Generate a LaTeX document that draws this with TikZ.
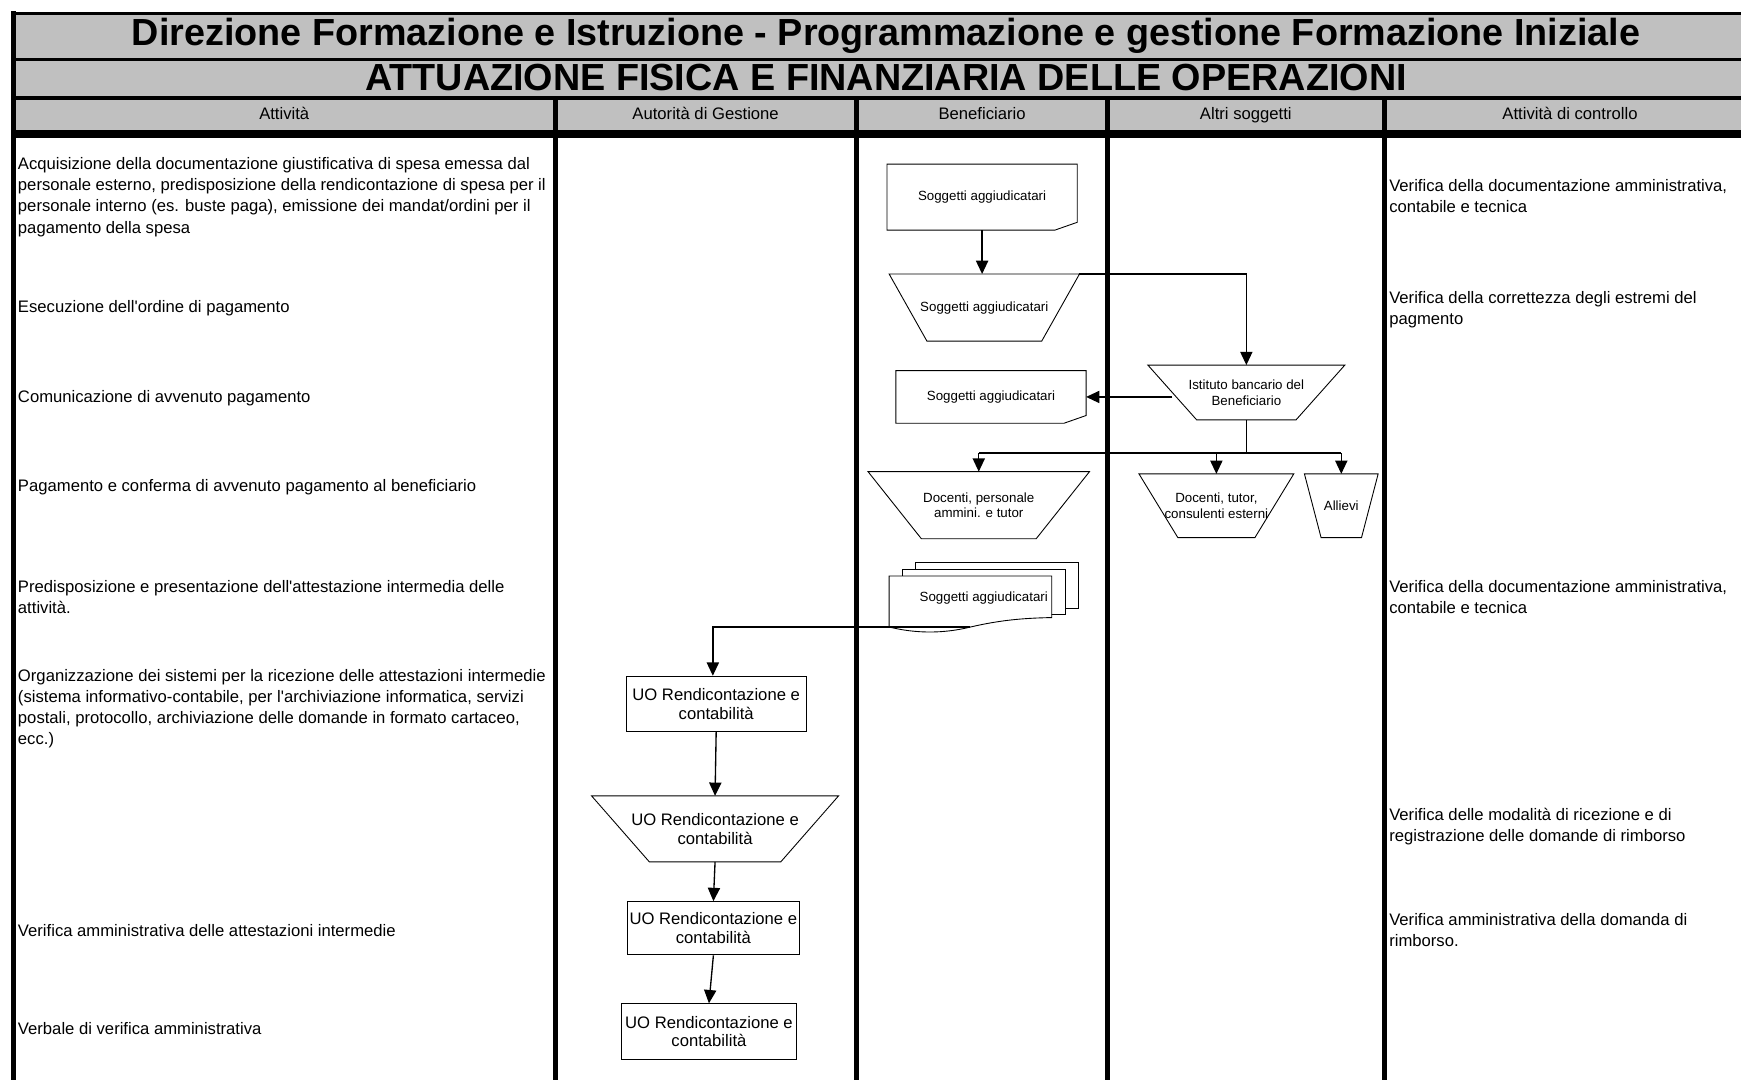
\documentclass[tikz,border=0pt]{standalone}
\usepackage{fontspec}
\setmainfont{Liberation Sans}
\usetikzlibrary{arrows.meta}

\definecolor{bandgray}{RGB}{192,192,192}

\tikzset{
  lane/.style={line width=4.5pt},
  rowtxt/.style={anchor=west, align=left, inner sep=0pt, font=\fontsize{15}{19}\selectfont},
  headtxt/.style={inner sep=0pt, text height=11pt, text depth=3.5pt, font=\fontsize{15}{18}\selectfont},
  boxtxt/.style={inner sep=0pt, align=center, font=\fontsize{12}{14}\selectfont},
  uobox/.style={draw, line width=0.8pt, inner sep=0pt, align=center, font=\fontsize{15}{17}\selectfont},
  outline/.style={line width=0.8pt},
  wire/.style={line width=1.2pt},
  flow/.style={line width=1.2pt, -{Triangle[length=12pt,width=11pt]}},
}

% trapezium with the wide side on top: node name, inset of the bottom side
\newcommand\manop[2]{\draw[outline] (#1.north west) -- (#1.north east) -- ([xshift=-#2pt]#1.south east) -- ([xshift=#2pt]#1.south west) -- cycle;}
% page with a cut corner
\newcommand\docpage[1]{\draw[outline] (#1.north west) -- (#1.north east) -- ([yshift=7pt]#1.south east) -- ([xshift=-20pt]#1.south east) -- (#1.south west) -- cycle;}

\begin{document}
\begin{tikzpicture}[x=1pt,y=-1pt]
  \useasboundingbox (0,0) rectangle (1568,972);
  \clip (0,0) rectangle (1568,972);

  % Header bands
  \fill[bandgray] (12,12) rectangle (1600,120);
  \draw[line width=3pt] (10,12) -- (1600,12);
  \draw[line width=3pt] (10,53.5) -- (1600,53.5);
  \draw[line width=3.5pt] (10,88) -- (1600,88);
  \draw[line width=7pt] (10,120.5) -- (1600,120.5);

  % Lanes
  \draw[lane] (12,10) -- (12,990);
  \draw[lane] (500.5,88) -- (500.5,990);
  \draw[lane] (771.5,88) -- (771.5,990);
  \draw[lane] (997.5,88) -- (997.5,990);
  \draw[lane] (1246.5,88) -- (1246.5,990);

  % Titles
  \node[inner sep=0pt, font=\fontsize{34}{40}\selectfont\bfseries] (title1) at (798,32) {Direzione Formazione e Istruzione - Programmazione e gestione Formazione Iniziale};
  \node[inner sep=0pt, font=\fontsize{34}{40}\selectfont\bfseries] (title2) at (798,70) {ATTUAZIONE FISICA E FINANZIARIA DELLE OPERAZIONI};

  % Column headers
  \node[headtxt] (h1) at (256,104) {Attività};
  \node[headtxt] (h2) at (635.5,104) {Autorità di Gestione};
  \node[headtxt] (h3) at (884.5,104) {Beneficiario};
  \node[headtxt] (h4) at (1122,104) {Altri soggetti};
  \node[headtxt] (h5) at (1414,104) {Attività di controllo};

  % Activities
  \node[rowtxt] (a1) at (16,177.5) {Acquisizione della documentazione giustificativa di spesa emessa dal\\personale esterno, predisposizione della rendicontazione di spesa per il\\personale interno (es. buste paga), emissione dei mandat/ordini per il\\pagamento della spesa};
  \node[rowtxt] (a2) at (16,278) {Esecuzione dell\textquotesingle ordine di pagamento};
  \node[rowtxt] (a3) at (16,359) {Comunicazione di avvenuto pagamento};
  \node[rowtxt] (a4) at (16,439) {Pagamento e conferma di avvenuto pagamento al beneficiario};
  \node[rowtxt] (a5) at (16,537.5) {Predisposizione e presentazione dell\textquotesingle attestazione intermedia delle\\attività.};
  \node[rowtxt] (a6) at (16,638.5) {Organizzazione dei sistemi per la ricezione delle attestazioni intermedie\\(sistema informativo-contabile, per l\textquotesingle archiviazione informatica, servizi\\postali, protocollo, archiviazione delle domande in formato cartaceo,\\ecc.)};
  \node[rowtxt] (a7) at (16,838) {Verifica amministrativa delle attestazioni intermedie};
  \node[rowtxt] (a8) at (16,926) {Verbale di verifica amministrativa};

  % Controls
  \node[rowtxt] (c1) at (1251,176.5) {Verifica della documentazione amministrativa,\\contabile e tecnica};
  \node[rowtxt] (c2) at (1251,279) {Verifica della correttezza degli estremi del\\pagmento};
  \node[rowtxt] (c3) at (1251,537.5) {Verifica della documentazione amministrativa,\\contabile e tecnica};
  \node[rowtxt] (c4) at (1251,744.5) {Verifica delle modalità di ricezione e di\\registrazione delle domande di rimborso};
  \node[rowtxt] (c5) at (1251,838) {Verifica amministrativa della domanda di\\rimborso.};

  % Beneficiario and Altri soggetti
  \node[boxtxt, minimum width=171pt, minimum height=59pt] (s1) at (884.5,177.5) {Soggetti aggiudicatari};
  \docpage{s1}
  \node[boxtxt, minimum width=171pt, minimum height=60pt] (t1) at (886.5,277) {Soggetti aggiudicatari};
  \manop{t1}{34}
  \node[boxtxt, minimum width=177pt, minimum height=49pt] (t2) at (1122.5,353.5) {Istituto bancario del\\Beneficiario};
  \manop{t2}{44}
  \node[boxtxt, minimum width=171pt, minimum height=47pt] (s2) at (892.5,357.5) {Soggetti aggiudicatari};
  \docpage{s2}
  \node[boxtxt, minimum width=199pt, minimum height=60pt] (t3) at (881.5,455) {Docenti, personale\\ammini. e tutor};
  \manop{t3}{48}
  \node[boxtxt, minimum width=139pt, minimum height=57pt] (t4) at (1095.5,455.5) {Docenti, tutor,\\consulenti esterni};
  \manop{t4}{35}
  \node[boxtxt, minimum width=66pt, minimum height=57pt] (t5) at (1208,455.5) {Allievi};
  \manop{t5}{15}

  % stacked pages
  \node[minimum width=146pt, minimum height=45.5pt, inner sep=0pt] (s3) at (874,541.75) {};
  \filldraw[outline, fill=white] ([shift={(24,-12)}]s3.north west) rectangle ([shift={(24,-17)}]s3.south east);
  \filldraw[outline, fill=white] ([shift={(12,-6)}]s3.north west) rectangle ([shift={(12,-11)}]s3.south east);
  \filldraw[outline, fill=white] (s3.north west) -- (s3.north east) -- ([yshift=8.5pt]s3.south east)
    .. controls ([shift={(-27,-8)}]s3.south east) and ([shift={(26,-6)}]s3.south) .. (s3.south)
    .. controls ([shift={(-24,6)}]s3.south) and ([shift={(-49,6)}]s3.south) .. (s3.south west) -- cycle;
  \node[boxtxt] (s3txt) at ([xshift=12pt,yshift=3pt]s3.center) {Soggetti aggiudicatari};

  % Autorita di Gestione
  \node[uobox, minimum width=162pt, minimum height=50pt] (uo1) at (645,634) {UO Rendicontazione e\\contabilità};
  \node[boxtxt, font=\fontsize{15}{17}\selectfont, minimum width=222pt, minimum height=59pt] (t6) at (644,746.5) {UO Rendicontazione e\\contabilità};
  \manop{t6}{52}
  \node[uobox, minimum width=155pt, minimum height=48pt] (uo2) at (642.5,836) {UO Rendicontazione e\\contabilità};
  \node[uobox, minimum width=157pt, minimum height=50pt] (uo3) at (638.5,929) {UO Rendicontazione e\\contabilità};

  % Connectors
  \draw[flow] (s1.south) -- (s1.south |- t1.north);
  \draw[flow] (t1.north east) -| (t2.north);
  \coordinate (t2in) at ([xshift=22pt]t2.west);
  \draw[flow] (t2in |- s2.east) -- (s2.east);
  \coordinate (bus) at (1125,408);
  \draw[wire] (t2.south) -- (t2.south |- bus);
  \draw[wire] (t3.north |- bus) -- (t5.north |- bus);
  \draw[flow] (t3.north |- bus) -- (t3.north);
  \draw[flow] (t4.north |- bus) -- (t4.north);
  \draw[flow] (t5.north |- bus) -- (t5.north);
  \draw[flow] (s3.south) -| ([xshift=-3pt]uo1.north);
  \draw[flow] (uo1.south) -- (t6.north);
  \draw[flow] (t6.south) -- (uo2.north);
  \draw[flow] (uo2.south) -- (uo3.north);
\end{tikzpicture}
\end{document}
